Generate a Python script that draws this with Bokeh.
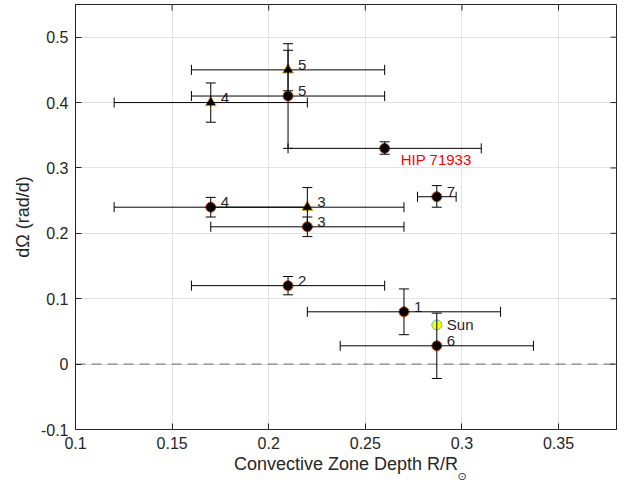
import math
from bokeh.plotting import figure
from bokeh.models import (Whisker, TeeHead, Span, FixedTicker,
                          ColumnDataSource, Title, Range1d)
from bokeh.core.properties import value
from bokeh.embed import file_html
from bokeh.resources import INLINE

# ---------------- data ----------------
circ_names = ["1", "2", "3", "4", "5", "6", "7", "HIP 71933"]
circ_x = [0.27, 0.21, 0.22, 0.17, 0.21, 0.287, 0.287, 0.26]
circ_y = [0.08, 0.12, 0.21, 0.24, 0.41, 0.028, 0.256, 0.33]
circ_x_lo = [0.22, 0.16, 0.17, 0.12, 0.16, 0.237, 0.277, 0.21]
circ_x_hi = [0.32, 0.26, 0.27, 0.22, 0.26, 0.337, 0.297, 0.31]
circ_y_lo = [0.045, 0.106, 0.195, 0.225, 0.33, -0.022, 0.24, 0.321]
circ_y_hi = [0.115, 0.134, 0.225, 0.255, 0.48, 0.078, 0.273, 0.340]

tri_names = ["3", "4", "5"]
tri_x = [0.22, 0.17, 0.21]
tri_y = [0.24, 0.40, 0.45]
tri_x_lo = [0.17, 0.12, 0.16]
tri_x_hi = [0.27, 0.22, 0.26]
tri_y_lo = [0.21, 0.37, 0.418]
tri_y_hi = [0.27, 0.43, 0.49]

sun_name = ["Sun"]
sun_x = [0.287]
sun_y = [0.06]

x_ticks = [0.1, 0.15, 0.2, 0.25, 0.3, 0.35]
x_tick_labels = ["0.1", "0.15", "0.2", "0.25", "0.3", "0.35"]
y_ticks = [-0.1, 0.0, 0.1, 0.2, 0.3, 0.4, 0.5]
y_tick_labels = ["-0.1", "0", "0.1", "0.2", "0.3", "0.4", "0.5"]

x_label = "Convective Zone Depth R/R"
x_label_sub = "⊙"
y_label = "dΩ (rad/d)"

X_MIN, X_MAX = 0.1, 0.38
Y_MIN, Y_MAX = -0.1, 0.55

# ---------------- style ----------------
FONT = "Liberation Sans"
DARK = "#262626"

circ_src = ColumnDataSource(dict(x=circ_x, y=circ_y, xl=circ_x_lo, xu=circ_x_hi,
                                 yl=circ_y_lo, yu=circ_y_hi, name=circ_names))
tri_src = ColumnDataSource(dict(x=tri_x, y=tri_y, xl=tri_x_lo, xu=tri_x_hi,
                                yl=tri_y_lo, yu=tri_y_hi, name=tri_names))
sun_src = ColumnDataSource(dict(x=sun_x, y=sun_y, name=sun_name))

p = figure(width=628, height=489, x_range=Range1d(X_MIN, X_MAX), y_range=Range1d(Y_MIN, Y_MAX),
           output_backend="svg", toolbar_location=None,
           min_border_left=75, min_border_right=12, min_border_top=4, min_border_bottom=60)
p.background_fill_color = "white"
p.border_fill_color = "white"
p.outline_line_color = DARK
p.outline_line_width = 1

xt = FixedTicker(ticks=x_ticks)
yt = FixedTicker(ticks=y_ticks)
p.xaxis.ticker = xt
p.yaxis.ticker = yt
p.xaxis.major_label_overrides = {t: l for t, l in zip(x_ticks, x_tick_labels)}
p.yaxis.major_label_overrides = {t: l for t, l in zip(y_ticks, y_tick_labels)}
p.yaxis.axis_label = y_label
for ax in (p.xaxis, p.yaxis):
    ax.axis_line_color = DARK
    ax.major_tick_line_color = DARK
    ax.major_tick_in = 6
    ax.major_tick_out = 0
    ax.minor_tick_line_color = None
    ax.major_label_text_font = FONT
    ax.major_label_text_font_size = "16px"
    ax.major_label_text_color = DARK
    ax.major_label_standoff = 7
    ax.axis_label_text_font = FONT
    ax.axis_label_text_font_size = "18px"
    ax.axis_label_text_font_style = "normal"
    ax.axis_label_text_color = DARK
    ax.axis_label_standoff = 5

# x-axis label as titles in the bottom panel: main text, then the small subscript sun
p.add_layout(Title(text=x_label, align="center", offset=-4, standoff=0,
                   text_font=FONT, text_font_size="18px", text_font_style="normal",
                   text_color=DARK), "below")
p.add_layout(Title(text=x_label_sub, align="left", offset=382, standoff=-12,
                   text_font="DejaVu Sans", text_font_size="11px", text_font_style="normal",
                   text_color=DARK), "below")

p.grid.grid_line_color = "#e3e3e3"
p.xgrid.ticker = xt
p.ygrid.ticker = yt

# inward ticks on the top and right edges of the box (half of each dash is clipped by the frame)
p.scatter(x_ticks, [Y_MAX] * len(x_ticks), marker="dash", size=12, angle=math.pi / 2,
          line_color=DARK, line_width=1)
p.scatter([X_MAX] * len(y_ticks), y_ticks, marker="dash", size=12,
          line_color=DARK, line_width=1)

p.add_layout(Span(location=0, dimension="width", line_color="#666666",
                  line_dash="10 6", line_width=1, level="underlay"))

def errbars(src):
    for dim, lo, hi, base in (("width", "xl", "xu", "y"), ("height", "yl", "yu", "x")):
        w = Whisker(base=base, lower=lo, upper=hi, dimension=dim, source=src,
                    line_color="black", line_width=1, level="glyph",
                    lower_head=TeeHead(size=10, line_color="black", line_width=1),
                    upper_head=TeeHead(size=10, line_color="black", line_width=1))
        p.add_layout(w)

errbars(circ_src)
errbars(tri_src)

p.scatter("x", "y", source=circ_src, marker="circle", size=10,
          fill_color="black", line_color="#D95319", line_width=1)
p.scatter("x", "y", source=tri_src, marker="triangle", size=11,
          fill_color="black", line_color="#EDB120", line_width=1)
p.scatter("x", "y", source=sun_src, marker="circle", size=10,
          fill_color="#FFFF00", line_color="#4DBEEE", line_width=1)

# point labels
num_idx = [i for i, n in enumerate(circ_names) if n != "HIP 71933"]
lab_src = ColumnDataSource(dict(x=[circ_x[i] for i in num_idx] + tri_x,
                                y=[circ_y[i] for i in num_idx] + tri_y,
                                t=[circ_names[i] for i in num_idx] + tri_names))
p.text("x", "y", text="t", source=lab_src, x_offset=10, y_offset=-5,
       text_font=value(FONT), text_font_size="15px", text_color=DARK,
       text_baseline="middle", text_align="left")
p.text("x", "y", text="name", source=sun_src, x_offset=10, y_offset=0,
       text_font=value(FONT), text_font_size="15px", text_color=DARK,
       text_baseline="middle", text_align="left")
hip = circ_names.index("HIP 71933")
hip_src = ColumnDataSource(dict(x=[circ_x[hip]], y=[circ_y[hip]], t=[circ_names[hip]]))
p.text("x", "y", text="t", source=hip_src, x_offset=16, y_offset=11,
       text_font=value(FONT), text_font_size="15px", text_color="#FF0000",
       text_baseline="middle", text_align="left")

open("out.html", "w").write(file_html(p, INLINE))
